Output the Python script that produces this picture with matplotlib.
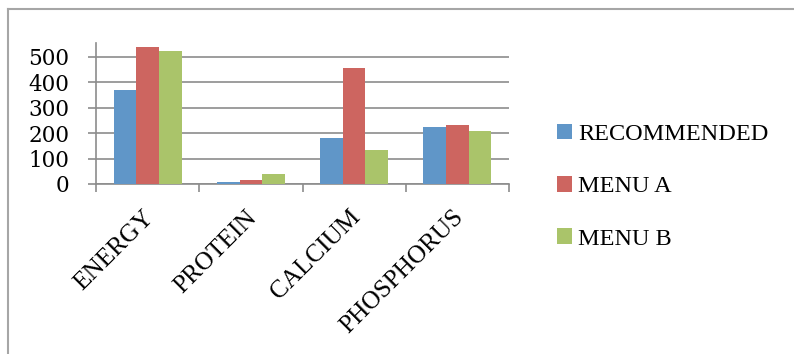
import numpy as np
import matplotlib.pyplot as plt
import matplotlib.transforms as mtransforms
from matplotlib.lines import Line2D
from matplotlib.patches import Patch

categories = ["ENERGY", "PROTEIN", "CALCIUM", "PHOSPHORUS"]
series_names = ["RECOMMENDED", "MENU A", "MENU B"]
recommended = [367, 8, 179, 224]
menu_a = [536, 15, 455, 231]
menu_b = [523, 41, 135, 207]
y_ticks = [0, 100, 200, 300, 400, 500]

colors = ["#6096c8", "#cd6560", "#aac46a"]
grid_col = "#8c8c8c"

plt.rcParams["font.family"] = ["Liberation Serif", "DejaVu Serif"]

fig = plt.figure(figsize=(7.94, 3.54), dpi=100)
ax = fig.add_axes([96 / 794, 1 - 184 / 354, (509 - 96) / 794, (184 - 43) / 354])

x = np.arange(len(categories))
w = 0.22
for i, vals in enumerate([recommended, menu_a, menu_b]):
    ax.bar(x + (i - 1) * w, vals, width=w, color=colors[i], zorder=3)

ax.set_xlim(-0.5, len(categories) - 0.5)
ax.set_ylim(0, 553)
ax.set_yticks(y_ticks)
ax.set_yticklabels([str(v) for v in y_ticks], fontsize=15.5, family="DejaVu Serif")
ax.yaxis.grid(True, color=grid_col, linewidth=1.2, zorder=0)
ax.tick_params(axis="y", length=6, width=1.2, color=grid_col, pad=13)

ax.set_xticks(x)
ax.set_xticklabels(categories, rotation=45, ha="right", rotation_mode="anchor",
                   fontsize=18.2)
ax.set_xticks(np.arange(len(categories) + 1) - 0.5, minor=True)
ax.tick_params(axis="x", which="major", length=0, pad=16)
ax.tick_params(axis="x", which="minor", length=6, width=1.2, color=grid_col)
shift = mtransforms.ScaledTranslation(-5 / 100, 0, fig.dpi_scale_trans)
for lab in ax.get_xticklabels():
    lab.set_transform(lab.get_transform() + shift)

for s in ["top", "right"]:
    ax.spines[s].set_visible(False)
for s in ["left", "bottom"]:
    ax.spines[s].set_color(grid_col)
    ax.spines[s].set_linewidth(1.2)

handles = [Patch(facecolor=c) for c in colors]
fig.legend(handles, series_names, loc="upper left",
           bbox_to_anchor=(547 / 794, 1 - 114 / 354), frameon=False,
           fontsize=17.5, handlelength=0.62, handleheight=0.62,
           handletextpad=0.25, labelspacing=1.27, borderaxespad=0)

# outer chart frame (left and top edges only visible)
fig.add_artist(Line2D([8 / 794, 8 / 794], [0, 1 - 9 / 354], color="#a6a6a6",
                      linewidth=1.5, transform=fig.transFigure))
fig.add_artist(Line2D([8 / 794, 1], [1 - 9 / 354, 1 - 9 / 354], color="#a6a6a6",
                      linewidth=1.5, transform=fig.transFigure))

fig.savefig("out.png", dpi=100)
